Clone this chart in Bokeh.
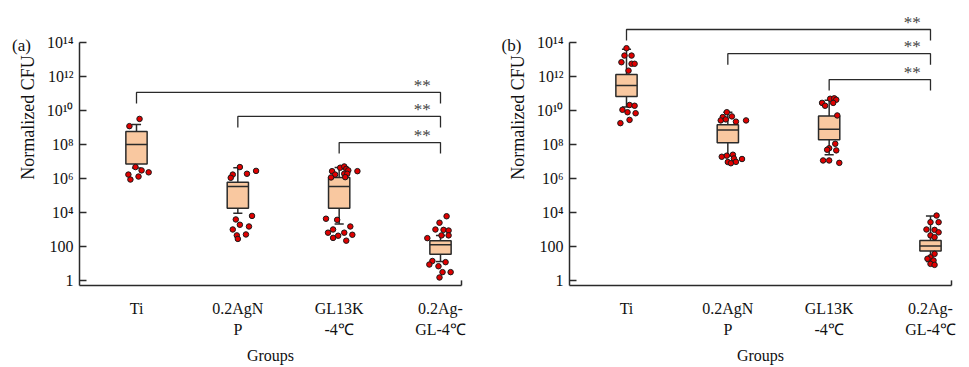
import math
from bokeh.plotting import figure
from bokeh.models import ColumnDataSource, Range1d, FixedTicker, Label
from bokeh.layouts import row
from bokeh.embed import file_html
from bokeh.resources import INLINE
from bokeh.core.properties import value

# ---------------- data ----------------
groups = ["Ti", "0.2AgNP", "GL13K-4℃", "0.2Ag-GL-4℃"]
group_labels = ["Ti", "0.2AgN\nP", "GL13K\n-4℃", "0.2Ag-\nGL-4℃"]
y_ticks = [1, 1e2, 1e4, 1e6, 1e8, 1e10, 1e12, 1e14]
y_tick_labels = ["1", "100", "10⁴", "10⁶", "10⁸", "10¹⁰", "10¹²", "10¹⁴"]

# panel (a): box statistics (normalized CFU)
a_lower = [4.1e6, 9.1e3, 2.1e3, 13]
a_q1 = [7.2e6, 1.8e4, 1.8e4, 35]
a_median = [1.0e8, 3.4e5, 3.4e5, 126]
a_q3 = [5.8e8, 6.0e5, 1.15e6, 219]
a_upper = [1.5e9, 4.3e6, 4.5e6, 447]

# panel (a): individual points (group number, horizontal jitter, CFU)
a_pt_group = [1] * 8 + [2] * 13 + [3] * 21 + [4] * 15
a_pt_jitter = [0.03, -0.07, -0.01, 0.05, 0.12, -0.08, 0.02, -0.06,
               0.02, -0.05, -0.07, 0.09, 0.18, -0.02, 0.14, 0.02, 0.11, -0.05, -0.01, 0.08, 0.00,
               -0.07, -0.04, -0.08, 0.01, 0.05, 0.07, 0.09, 0.05, 0.08, 0.06, 0.18,
               -0.13, -0.02, 0.11, -0.06, -0.11, 0.05, 0.13, -0.01, -0.06, 0.07,
               0.06, -0.01, -0.05, 0.03, 0.08, 0.01, 0.08, -0.13,
               -0.08, -0.11, -0.02, 0.05, 0.02, 0.10, -0.01]
a_pt_cfu = [3.2e9, 1.2e9, 4.7e6, 3.0e6, 2.3e6, 1.7e6, 1.3e6, 8.7e5,
            4.7e6, 1.7e6, 1.1e6, 1.9e6, 2.8e6, 3.9e3, 6.3e3, 1.9e3, 1.5e3, 1.0e3, 450, 510, 280,
            2.7e6, 1.7e6, 1.15e6, 4.3e6, 5.1e6, 3.7e6, 3.0e6, 1.9e6, 1.9e6, 1.2e6, 2.7e6,
            4.3e3, 3.7e3, 1.5e3, 1.0e3, 650, 650, 490, 430, 320, 220,
            6.0e3, 2.5e3, 1.0e3, 950, 870, 450, 450, 310,
            14, 8.7, 6.9, 12, 3.1, 3.1, 1.5]

# panel (b): box statistics
b_lower = [1.6e10, 2.2e7, 2.5e7, 13]
b_q1 = [6.6e10, 1.26e8, 1.9e8, 55]
b_median = [3.0e11, 7.2e8, 7.9e8, 107]
b_q3 = [1.3e12, 1.45e9, 4.7e9, 224]
b_upper = [4.0e13, 7.9e9, 4.0e10, 6.3e3]

# panel (b): individual points
b_pt_group = [1] * 14 + [2] * 15 + [3] * 14 + [4] * 14
b_pt_jitter = [0.00, -0.02, 0.05, -0.05, 0.05, 0.08, 0.02, 0.03, 0.08, -0.04, 0.01, 0.09, 0.03, -0.06,
               -0.01, -0.05, -0.07, -0.02, 0.04, 0.08, 0.18, -0.06, -0.01, 0.05, 0.06, 0.14, 0.00, 0.03, 0.08,
               0.01, 0.05, 0.07, 0.04, -0.07, -0.04, 0.08, 0.06, 0.00, 0.07, -0.02, -0.06, 0.00, 0.10,
               0.06, 0.00, 0.08, -0.04, 0.04, 0.08, 0.00, 0.04, 0.04, 0.00, -0.03, 0.03, 0.00, 0.04]
b_pt_cfu = [4.6e13, 1.7e13, 1.7e13, 6.9e12, 5.6e12, 5.6e12, 2.2e12, 2.1e10, 1.9e10, 1.1e10, 7.9e9, 6.9e9, 2.8e9, 1.8e9,
            7.9e9, 4.1e9, 2.6e9, 3.0e9, 4.5e9, 2.2e9, 2.6e9, 1.9e7, 2.2e7, 2.5e7, 1.5e7, 1.4e7, 9.3e6, 7.9e6, 9.5e6,
            4.9e10, 5.2e10, 4.3e10, 2.8e10, 2.8e10, 1.9e10, 5.1e9, 1.1e8, 6.0e7, 4.5e7, 4.9e7, 1.15e7, 1.15e7, 8.3e6,
            6.6e3, 2.7e3, 2.7e3, 1.0e3, 950, 680, 450, 350, 37, 23, 19, 15, 9.5, 8.3]

# significance brackets: compared group vs group 4, bracket height, label
sig_from = [1, 2, 3]
sig_to = [4, 4, 4]
sig_text = ["**", "**", "**"]
a_sig_level = [1.15e11, 4.5e9, 1.3e8]
b_sig_level = [5.8e14, 2.2e13, 6.6e11]

# ---------------- style / layout ----------------
FONT = "Liberation Serif"
BOX_FILL = "#F9C8A0"
LINE = "#2a2a2a"
DOT = "#E00000"
# the frame fills the whole figure; axes are pinned with fixed_location
Y_BOTTOM, Y_TOP = 10 ** -5.118, 10 ** 16.47
Y_AXIS0 = 10 ** -0.294       # height of the x axis line
X_LEFT = -0.3421
X_AXIS0 = 0.4375             # position of the y axis line
X_AXIS1 = 4.2072             # right end of the x axis line
BOX_W = 0.21
CAP_W = 0.09
LEG = 10 ** 0.65
END_TICK = 10 ** 0.3


def make_panel(tag, lower, q1, med, q3, upper, pg, pj, pv, levels, width, x_right):
    p = figure(width=width, height=367, y_axis_type="log",
               x_range=Range1d(X_LEFT, x_right), y_range=Range1d(Y_BOTTOM, Y_TOP),
               output_backend="svg", toolbar_location=None, min_border=0)
    p.grid.visible = False
    p.outline_line_color = None
    p.background_fill_color = "white"
    p.border_fill_color = "white"

    xs = list(range(1, len(groups) + 1))
    src = ColumnDataSource(dict(
        x=xs, lower=lower, q1=q1, med=med, q3=q3, upper=upper,
        xl=[x - BOX_W / 2 for x in xs], xr=[x + BOX_W / 2 for x in xs],
        cl=[x - CAP_W / 2 for x in xs], cr=[x + CAP_W / 2 for x in xs],
    ))
    # whiskers
    p.segment(x0="x", y0="q3", x1="x", y1="upper", source=src, line_color=LINE, line_width=1.5)
    p.segment(x0="x", y0="q1", x1="x", y1="lower", source=src, line_color=LINE, line_width=1.5)
    p.segment(x0="cl", y0="upper", x1="cr", y1="upper", source=src, line_color=LINE, line_width=1.5)
    p.segment(x0="cl", y0="lower", x1="cr", y1="lower", source=src, line_color=LINE, line_width=1.5)
    # boxes
    p.vbar(x="x", width=BOX_W, bottom="q1", top="q3", source=src,
           fill_color=BOX_FILL, line_color=LINE, line_width=1.5)
    p.segment(x0="xl", y0="med", x1="xr", y1="med", source=src, line_color=LINE, line_width=1.5)

    # points
    psrc = ColumnDataSource(dict(x=[g + j for g, j in zip(pg, pj)], y=pv))
    p.scatter(x="x", y="y", source=psrc, size=5.5, fill_color=DOT, line_color="#1a1a1a", line_width=1)

    # significance brackets
    bx, by = [], []
    for a, b, lv in zip(sig_from, sig_to, levels):
        bx.append([a, a, b, b])
        by.append([lv / LEG, lv, lv, lv / LEG])
    p.multi_line(xs=bx, ys=by, line_color=LINE, line_width=1.3)
    p.text(x=[b - 0.18 for b in sig_to], y=levels, text=sig_text,
           text_font=value(FONT), text_font_size="17px", text_color="#444",
           text_align="center", text_baseline="middle", y_offset=-7)

    # y axis
    ya = p.yaxis[0]
    ya.fixed_location = X_AXIS0
    ya.ticker = FixedTicker(ticks=y_ticks)
    ya.major_label_overrides = dict(zip(y_ticks, y_tick_labels))
    ya.bounds = (Y_AXIS0, 1e14)
    ya.major_tick_in = 7
    ya.major_tick_out = 0
    ya.minor_tick_line_color = None
    ya.axis_line_width = 1.5
    ya.axis_line_color = LINE
    ya.major_tick_line_color = LINE
    ya.major_tick_line_width = 1.5
    ya.major_label_text_font = FONT
    ya.major_label_text_font_size = "16px"
    ya.major_label_text_color = "#111"
    ya.major_label_standoff = 6

    # x axis
    xa = p.xaxis[0]
    xa.fixed_location = Y_AXIS0
    xa.ticker = FixedTicker(ticks=xs)
    xa.major_label_overrides = dict(zip(xs, group_labels))
    xa.bounds = (X_AXIS0, X_AXIS1)
    xa.major_tick_line_color = None
    xa.minor_tick_line_color = None
    xa.axis_line_width = 1.5
    xa.axis_line_color = LINE
    xa.major_label_text_font = FONT
    xa.major_label_text_font_size = "16px"
    xa.major_label_text_color = "#111"
    xa.major_label_standoff = 9

    # small upward tick closing the right end of the x axis
    p.segment(x0=[X_AXIS1], y0=[Y_AXIS0], x1=[X_AXIS1], y1=[Y_AXIS0 * END_TICK],
              line_color=LINE, line_width=1.5)

    # titles (frame-relative screen units; the frame fills the figure)
    p.add_layout(Label(x=(X_AXIS0 + X_AXIS1) / 2, y=12, x_units="data", y_units="screen", text="Groups",
                       text_align="center", text_baseline="middle",
                       text_font=FONT, text_font_size="16px", text_color="#111"))
    p.add_layout(Label(x=27, y=250, x_units="screen", y_units="screen", text="Normalized CFU",
                       angle=math.pi / 2, text_align="center", text_baseline="middle",
                       text_font=FONT, text_font_size="18px", text_color="#111"))
    p.add_layout(Label(x=21, y=322, x_units="screen", y_units="screen", text=tag,
                       text_align="center", text_baseline="middle",
                       text_font=FONT, text_font_size="17px", text_color="#111"))
    return p


pa = make_panel("(a)", a_lower, a_q1, a_median, a_q3, a_upper,
                a_pt_group, a_pt_jitter, a_pt_cfu, a_sig_level, 490, 4.4934)
pb = make_panel("(b)", b_lower, b_q1, b_median, b_q3, b_upper,
                b_pt_group, b_pt_jitter, b_pt_cfu, b_sig_level, 479, 4.3849)

layout = row(pa, pb)
open("out.html", "w").write(file_html(layout, INLINE))
